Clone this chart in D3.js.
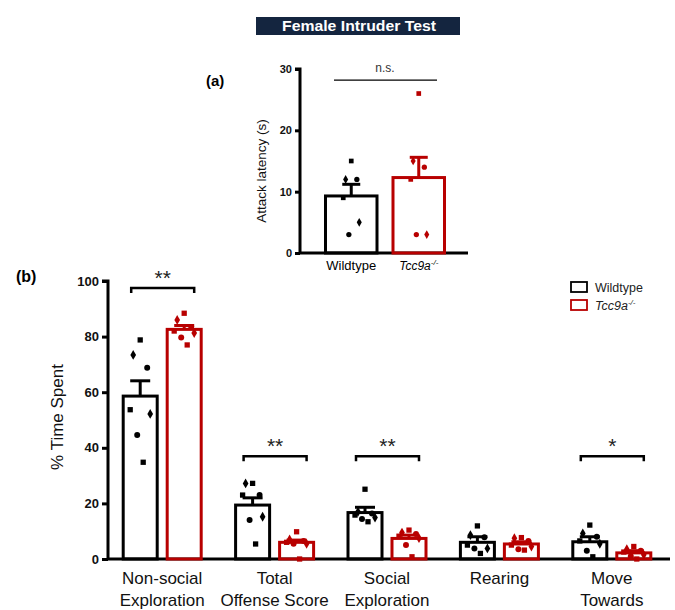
<!DOCTYPE html>
<html lang="en">
<head>
<meta charset="UTF-8">
<title>Female Intruder Test</title>
<script src="https://d3js.org/d3.v7.min.js"></script>
<style>
  body { margin: 0; background: #fff; }
  svg text { font-family: "Liberation Sans", Arial, sans-serif; }
  .axis path, .axis line { stroke: #000; stroke-width: 3; }
  .axis text { font-weight: bold; fill: #111; }
</style>
</head>
<body>
<svg id="chart" width="675" height="610"></svg>
<script>
// ---- data ----
const groups = ["Wildtype", "Tcc9a"];
const colors = ["#000000", "#b80000"];

// panel (a): attack latency (s)
const latencyMean = [9.3, 12.3];
const latencySem = [11.2, 15.6];
const latencyPoints = [
  [15, 12, 12, 9, 5, 3],
  [26, 15, 14, 12, 3, 3]
];

// panel (b): % time spent
const categories = ["Non-social Exploration", "Total Offense Score", "Social Exploration", "Rearing", "Move Towards"];
const catLines = [["Non-social", "Exploration"], ["Total", "Offense Score"], ["Social", "Exploration"], ["Rearing"], ["Move", "Towards"]];
const wtMean = [58.6, 19.4, 16.7, 6.0, 6.2];
const wtSem = [64.1, 22.0, 18.6, 8.0, 8.0];
const koMean = [82.6, 6.0, 7.4, 5.4, 2.2];
const koSem = [84.0, 6.8, 8.6, 6.2, 3.0];
const wtPoints = [
  [78.8, 73.4, 68.8, 53.7, 52.2, 44.6, 34.8],
  [27.2, 27.2, 23, 23, 15.2, 14, 5.4],
  [25.1, 17, 16.4, 15.8, 14.9, 14.4, 13.4],
  [11.9, 8.6, 7.8, 5, 3.8, 3.8, 2.0],
  [12.2, 9.2, 8, 6.5, 5.5, 3, 0.8]
];
const koPoints = [
  [88.4, 86, 83.5, 82, 81.3, 79.7, 77],
  [9.8, 7, 6.5, 6, 5.5, 5.5, 0],
  [10.4, 9.5, 9, 8.2, 7.5, 5, 0.8],
  [7.7, 7.5, 6.5, 5, 4.5, 3.5, 3.2],
  [4.5, 3.5, 3, 2.5, 1.5, 1, 0]
];
const sigLabels = ["**", "**", "**", "", "*"];
const sigLevel = [97.5, 37, 37, null, 37];

const svg = d3.select("#chart");
const shapes = [d3.symbolSquare, d3.symbolDiamond, d3.symbolCircle];
const jitter = [0, -7, 7, -10, 10, -3, 3];

// ---- title ----
svg.append("rect").attr("x", 256).attr("y", 17).attr("width", 204).attr("height", 18)
  .attr("fill", "#14253f");
svg.append("text").attr("x", 359).attr("y", 31).attr("text-anchor", "middle")
  .attr("fill", "#fff").style("font-size", "14px").style("font-weight", "bold")
  .attr("textLength", 154).attr("lengthAdjust", "spacingAndGlyphs")
  .text("Female Intruder Test");

// ---- panel (a) ----
svg.append("text").attr("x", 206).attr("y", 86).style("font-size", "15px")
  .style("font-weight", "bold").text("(a)");

const yA = d3.scaleLinear().domain([0, 30]).range([253, 69]);
const xA = d3.scaleBand().domain(groups).range([301, 469]).paddingInner(0.237).paddingOuter(0.363);

const gA = svg.append("g");
gA.append("g").attr("class", "axis").attr("transform", "translate(300,0)")
  .call(d3.axisLeft(yA).tickValues([0, 10, 20, 30]).tickSize(5).tickPadding(3))
  .call(g => g.selectAll("text").style("font-size", "11px"))
  .call(g => g.select(".domain").attr("d", `M-5,${yA(30)}H0V${yA(0)}`));
gA.append("line").attr("x1", 300).attr("x2", 468).attr("y1", yA(0)).attr("y2", yA(0))
  .attr("stroke", "#000").attr("stroke-width", 3);

groups.forEach((gname, i) => {
  const x0 = xA(gname), bw = xA.bandwidth(), cx = x0 + bw / 2;
  gA.append("line").attr("x1", cx).attr("x2", cx).attr("y1", yA(latencyMean[i])).attr("y2", yA(latencySem[i]))
    .attr("stroke", colors[i]).attr("stroke-width", 3);
  gA.append("line").attr("x1", cx - 9).attr("x2", cx + 9).attr("y1", yA(latencySem[i])).attr("y2", yA(latencySem[i]))
    .attr("stroke", colors[i]).attr("stroke-width", 3);
  gA.append("rect").attr("x", x0).attr("y", yA(latencyMean[i]))
    .attr("width", bw).attr("height", yA(0) - yA(latencyMean[i]))
    .attr("fill", "none").attr("stroke", colors[i]).attr("stroke-width", 3);
  latencyPoints[i].forEach((v, j) => {
    gA.append("path").attr("d", d3.symbol().type(shapes[j % 3]).size(22))
      .attr("transform", `translate(${cx + jitter[j] * 0.8},${yA(v)})`).attr("fill", colors[i]);
  });
});
gA.append("line").attr("x1", 334).attr("x2", 437).attr("y1", yA(28.2)).attr("y2", yA(28.2))
  .attr("stroke", "#000").attr("stroke-width", 1.2);
gA.append("text").attr("x", 385).attr("y", yA(28.2) - 8).attr("text-anchor", "middle")
  .style("font-size", "12px").attr("fill", "#333").text("n.s.");
gA.append("text").attr("transform", `translate(266,171) rotate(-90)`)
  .attr("text-anchor", "middle").style("font-size", "13.5px").attr("fill", "#111")
  .text("Attack latency  (s)");
gA.append("text").attr("x", xA("Wildtype") + xA.bandwidth() / 2).attr("y", 270)
  .attr("text-anchor", "middle").style("font-size", "13px").text("Wildtype");
const koLabA = gA.append("text").attr("x", xA("Tcc9a") + xA.bandwidth() / 2).attr("y", 270)
  .attr("text-anchor", "middle").style("font-size", "12px").style("font-style", "italic");
koLabA.append("tspan").text("Tcc9a");
koLabA.append("tspan").attr("dy", -5).style("font-size", "8px").text("-/-");

// ---- panel (b) ----
svg.append("text").attr("x", 16).attr("y", 282).style("font-size", "16px")
  .style("font-weight", "bold").text("(b)");

const yB = d3.scaleLinear().domain([0, 100]).range([559, 281]);
const xB = d3.scaleBand().domain(categories).range([106, 668]);
const xSub = d3.scaleBand().domain(groups).range([0, xB.bandwidth()]).paddingInner(0.227).paddingOuter(0.391);

const gB = svg.append("g");
gB.append("g").attr("class", "axis").attr("transform", "translate(108,0)")
  .call(d3.axisLeft(yB).tickValues([0, 20, 40, 60, 80, 100]).tickSize(6).tickPadding(3))
  .call(g => g.selectAll("text").style("font-size", "13px"))
  .call(g => g.select(".domain").attr("d", `M-6,${yB(100)}H0V${yB(0)}`));
gB.append("line").attr("x1", 108).attr("x2", 670).attr("y1", yB(0)).attr("y2", yB(0))
  .attr("stroke", "#000").attr("stroke-width", 3);

gB.append("text").attr("transform", `translate(63,417) rotate(-90)`)
  .attr("text-anchor", "middle").style("font-size", "17px").attr("fill", "#111")
  .text("% Time Spent");

const means = [wtMean, koMean], sems = [wtSem, koSem], pts = [wtPoints, koPoints];
categories.forEach((cat, c) => {
  groups.forEach((gname, i) => {
    const x0 = xB(cat) + xSub(gname), bw = xSub.bandwidth(), cx = x0 + bw / 2;
    const m = means[i][c], s = sems[i][c];
    gB.append("line").attr("x1", cx).attr("x2", cx).attr("y1", yB(m)).attr("y2", yB(s))
      .attr("stroke", colors[i]).attr("stroke-width", 3);
    gB.append("line").attr("x1", cx - 10).attr("x2", cx + 10).attr("y1", yB(s)).attr("y2", yB(s))
      .attr("stroke", colors[i]).attr("stroke-width", 3);
    gB.append("rect").attr("x", x0).attr("y", yB(m))
      .attr("width", bw).attr("height", yB(0) - yB(m))
      .attr("fill", "none").attr("stroke", colors[i]).attr("stroke-width", 3);
    pts[i][c].forEach((v, j) => {
      gB.append("path").attr("d", d3.symbol().type(shapes[j % 3]).size(28))
        .attr("transform", `translate(${cx + jitter[j]},${yB(v)})`).attr("fill", colors[i]);
    });
  });
  // significance bracket
  if (sigLevel[c] !== null) {
    const xl = xB(cat) + xSub("Wildtype") + xSub.bandwidth() / 2 - 9;
    const xr = xB(cat) + xSub("Tcc9a") + xSub.bandwidth() / 2 + 10;
    const yy = yB(sigLevel[c]);
    gB.append("path").attr("d", `M${xl},${yy + 5}V${yy}H${xr}V${yy + 5}`)
      .attr("fill", "none").attr("stroke", "#000").attr("stroke-width", 2.5);
    gB.append("text").attr("x", (xl + xr) / 2).attr("y", yy - 3).attr("text-anchor", "middle")
      .style("font-size", "21px").attr("fill", "#222").text(sigLabels[c]);
  }
  // category labels
  const lab = gB.append("text").attr("x", xB(cat) + xB.bandwidth() / 2).attr("y", 584)
    .attr("text-anchor", "middle").style("font-size", "17px").attr("fill", "#111");
  catLines[c].forEach((ln, k) => {
    lab.append("tspan").attr("x", xB(cat) + xB.bandwidth() / 2).attr("dy", k === 0 ? 0 : 22).text(ln);
  });
});

// legend
const leg = svg.append("g").attr("transform", "translate(571,282)");
groups.forEach((gname, i) => {
  leg.append("rect").attr("x", 0).attr("y", i * 18).attr("width", 16).attr("height", 10)
    .attr("fill", "none").attr("stroke", colors[i]).attr("stroke-width", 1.8);
  const t = leg.append("text").attr("x", 24).attr("y", i * 18 + 10).style("font-size", "12.5px").attr("fill", "#222");
  if (i === 0) t.text("Wildtype");
  else {
    t.style("font-style", "italic");
    t.append("tspan").text("Tcc9a");
    t.append("tspan").attr("dy", -5).style("font-size", "8px").text("-/-");
  }
});
</script>
</body>
</html>
